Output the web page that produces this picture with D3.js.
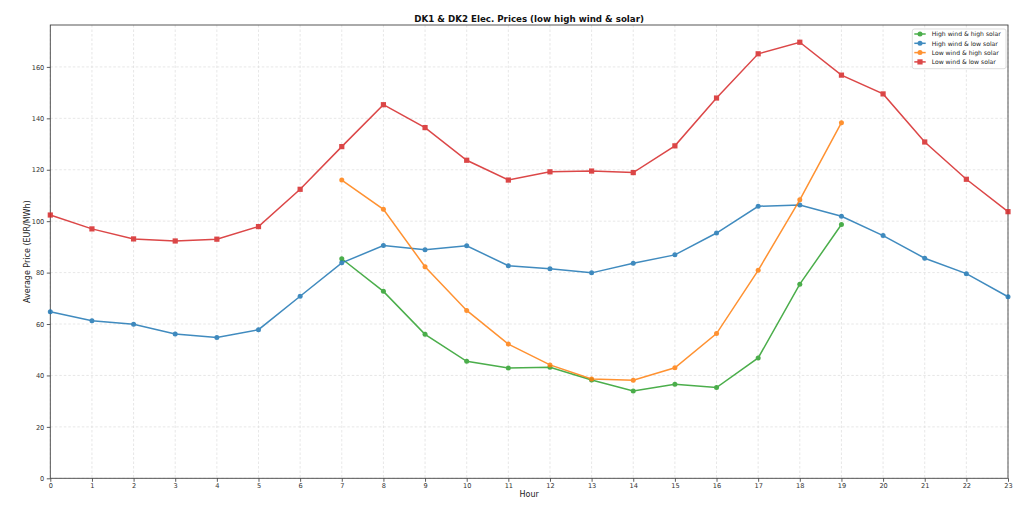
<!DOCTYPE html>
<html><head><meta charset="utf-8">
<script src="https://cdn.jsdelivr.net/npm/d3@7"></script>
<style>
body{margin:0;background:#fff;}
svg{font-family:"DejaVu Sans",sans-serif;}
</style></head>
<body><svg id="c" width="1024" height="517"></svg>
<script>
const hoursAll = d3.range(0,24);
const hoursMid = d3.range(7,20);
const highWindHighSolar = [85.4,72.7,56.0,45.5,42.9,43.2,38.2,34.0,36.6,35.3,46.8,75.5,98.7];
const highWindLowSolar = [64.8,61.3,59.9,56.1,54.8,57.8,70.8,83.8,90.5,88.9,90.4,82.7,81.5,79.9,83.6,86.9,95.4,105.8,106.3,101.9,94.4,85.6,79.6,70.6];
const lowWindHighSolar = [116.0,104.6,82.3,65.3,52.2,44.1,38.6,38.1,43.0,56.3,80.9,108.3,138.3];
const lowWindLowSolar = [102.4,97.0,93.1,92.3,93.0,97.9,112.4,129.0,145.3,136.4,123.7,116.0,119.2,119.5,118.9,129.3,147.9,165.1,169.6,156.8,149.5,130.8,116.3,103.7];
const yTicks = [0,20,40,60,80,100,120,140,160];
const seriesNames = ["High wind & high solar","High wind & low solar","Low wind & high solar","Low wind & low solar"];
const seriesColors = ["#2ca02c","#1f77b4","#ff7f0e","#d62728"];
const seriesMarkers = ["circle","circle","circle","square"];
const title = "DK1 & DK2 Elec. Prices (low high wind & solar)";

const series = [
  {name:seriesNames[0], x:hoursMid, y:highWindHighSolar, color:seriesColors[0], marker:seriesMarkers[0]},
  {name:seriesNames[1], x:hoursAll, y:highWindLowSolar, color:seriesColors[1], marker:seriesMarkers[1]},
  {name:seriesNames[2], x:hoursMid, y:lowWindHighSolar, color:seriesColors[2], marker:seriesMarkers[2]},
  {name:seriesNames[3], x:hoursAll, y:lowWindLowSolar, color:seriesColors[3], marker:seriesMarkers[3]},
];

const svg = d3.select("#c");
const L=50.3, R=1008, T=25, B=478.3;
const x = d3.scaleLinear().domain([0,23]).range([L,R]);
const y = d3.scaleLinear().domain([0,176.3]).range([B,T]);

// grid
const g = svg.append("g");
g.selectAll(".vg").data(hoursAll).enter().append("line")
  .attr("x1",d=>x(d)).attr("x2",d=>x(d)).attr("y1",T).attr("y2",B)
  .attr("stroke","#dcdcdc").attr("stroke-width",0.7).attr("stroke-dasharray","2.5,2");
g.selectAll(".hg").data(yTicks).enter().append("line")
  .attr("x1",L).attr("x2",R).attr("y1",d=>y(d)).attr("y2",d=>y(d))
  .attr("stroke","#dcdcdc").attr("stroke-width",0.7).attr("stroke-dasharray","2.5,2");

// axes
const xa = svg.append("g").attr("transform",`translate(0,${B})`)
  .call(d3.axisBottom(x).tickValues(hoursAll).tickFormat(d3.format("d")).tickSizeOuter(0).tickSize(3.5).tickPadding(2));
const ya = svg.append("g").attr("transform",`translate(${L},0)`)
  .call(d3.axisLeft(y).tickValues(yTicks).tickFormat(d3.format("d")).tickSizeOuter(0).tickSize(3.5).tickPadding(2.5));
[xa,ya].forEach(a=>{
  a.select(".domain").remove();
  a.selectAll("line").attr("stroke","#333").attr("stroke-width",0.8);
  a.selectAll("text").attr("fill","#333").style("font-size","6.6px").style("font-family","DejaVu Sans");
});

// frame
svg.append("rect").attr("x",L).attr("y",T).attr("width",R-L).attr("height",B-T)
  .attr("fill","none").attr("stroke","#444").attr("stroke-width",0.9);

// lines
const lineGen = d3.line().x(d=>x(d[0])).y(d=>y(d[1]));
series.forEach(s=>{
  const pts = s.x.map((h,i)=>[h,s.y[i]]);
  const sg = svg.append("g").attr("opacity",0.85);
  sg.append("path").datum(pts).attr("d",lineGen).attr("fill","none")
    .attr("stroke",s.color).attr("stroke-width",1.5);
  if(s.marker==="square"){
    sg.selectAll("rect").data(pts).enter().append("rect")
      .attr("x",d=>x(d[0])-2.6).attr("y",d=>y(d[1])-2.6).attr("width",5.2).attr("height",5.2)
      .attr("fill",s.color);
  } else {
    sg.selectAll("circle").data(pts).enter().append("circle")
      .attr("cx",d=>x(d[0])).attr("cy",d=>y(d[1])).attr("r",2.5).attr("fill",s.color);
  }
});

// title & labels
svg.append("text").attr("x",(L+R)/2).attr("y",21.5).attr("text-anchor","middle")
  .style("font-size","8.7px").style("font-weight","bold").attr("fill","#111").text(title);
svg.append("text").attr("x",(L+R)/2).attr("y",497).attr("text-anchor","middle")
  .style("font-size","8px").attr("fill","#222").text("Hour");
svg.append("text").attr("transform",`translate(30,${(T+B)/2}) rotate(-90)`).attr("text-anchor","middle")
  .style("font-size","8px").attr("fill","#222").text("Average Price (EUR/MWh)");

// legend
const lg = svg.append("g");
lg.append("rect").attr("x",912.3).attr("y",29).attr("width",93.7).attr("height",39.7)
  .attr("fill","#fff").attr("fill-opacity",0.85).attr("stroke","#d0d0d0").attr("stroke-width",0.7).attr("rx",2);
series.forEach((s,i)=>{
  const yy = 34+i*9.3;
  const eg = lg.append("g").attr("opacity",0.85);
  eg.append("line").attr("x1",914.3).attr("x2",925.7).attr("y1",yy).attr("y2",yy)
    .attr("stroke",s.color).attr("stroke-width",1.5);
  if(s.marker==="square") eg.append("rect").attr("x",920-2.6).attr("y",yy-2.6).attr("width",5.2).attr("height",5.2).attr("fill",s.color);
  else eg.append("circle").attr("cx",920).attr("cy",yy).attr("r",2.5).attr("fill",s.color);
  lg.append("text").attr("x",931.7).attr("y",yy+2.3).style("font-size","6.1px").attr("fill","#222").text(s.name);
});
</script></body></html>
